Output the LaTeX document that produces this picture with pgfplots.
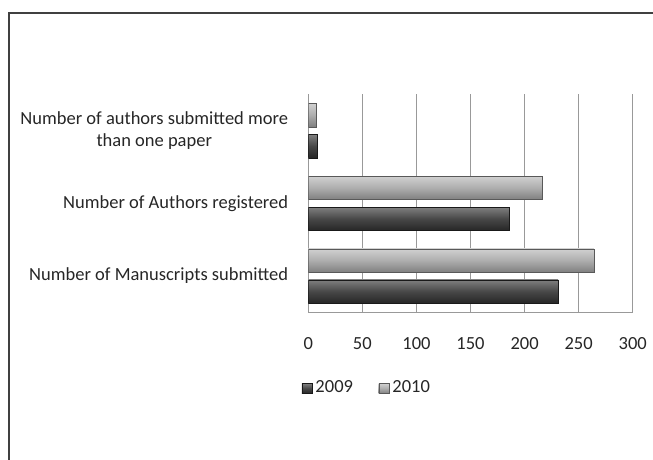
\documentclass[border=0pt]{standalone}
\usepackage{fontspec}
\setmainfont{Carlito}
\usepackage{pgfplots}
\pgfplotsset{compat=1.18}
\begin{document}
\fontsize{18.5bp}{22bp}\selectfont
\begin{tikzpicture}[x=1bp,y=1bp,font=\fontsize{18.5bp}{22bp}\selectfont]
\path[use as bounding box] (0,0) rectangle (653,460);
\draw[line width=1.5bp, black!75] (9,0) -- (9,447) -- (653,447);
\coordinate (A) at (308.3,147.7);
\begin{axis}[
  at={(A)}, anchor=south west,
  scale only axis, width=324.4bp, height=218bp,
  xbar, xmin=0, xmax=300, ymin=-0.5, ymax=2.5,
  xtick={0,50,...,300}, ytick={0,1,2},
  yticklabels={Number of Manuscripts submitted, Number of Authors registered, {Number of authors submitted more\\than one paper}},
  /pgf/number format/assume math mode=true,
  axis lines*=left,
  axis line style={draw=black!40, line width=1.2bp},
  major tick length=0pt,
  xmajorgrids, grid style={draw=black!40, line width=1.4bp},
  xticklabel style={anchor=base, yshift=-37bp, text=black!85},
  yticklabel style={align=center, anchor=east, inner sep=0pt, xshift=-20bp, text=black!85},
  legend columns=2,
  legend style={at={(0.1825,-0.347)}, anchor=center, draw=none, fill=none,
    /tikz/every even column/.append style={column sep=22bp}, text=black!85,
    nodes={inner xsep=3.5bp}},
  legend image code/.code={\draw[#1] (0bp,-5.5bp) rectangle (10bp,4.5bp);},
  s09/.style={xbar, bar width=23.5bp, bar shift=-15.5bp, draw=black!90, top color=black!50, bottom color=black!85, middle color=black!72},
  s10/.style={xbar, bar width=23.5bp, bar shift=15.5bp, draw=black!65, top color=black!18, bottom color=black!50, middle color=black!32},
]
\addplot[s09] coordinates {(231,0)};
\addplot[s10] coordinates {(264,0)};
\addplot[s09, forget plot] coordinates {(186,1)};
\addplot[s09, forget plot] coordinates {(8,2)};
\addplot[s10, forget plot] coordinates {(216,1)};
\addplot[s10, forget plot] coordinates {(7,2)};
\legend{2009, 2010}
\end{axis}
\end{tikzpicture}
\end{document}
